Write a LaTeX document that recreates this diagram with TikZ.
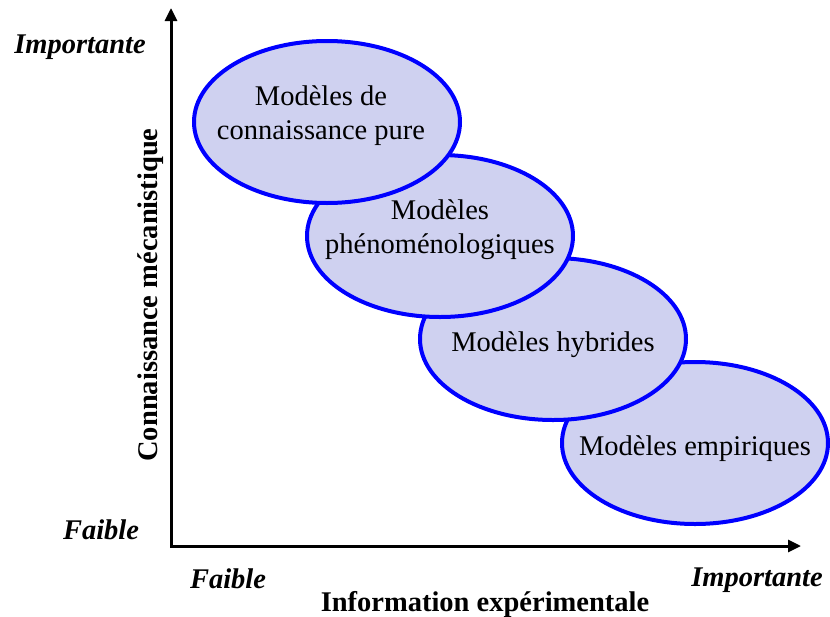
\documentclass[tikz,border=0pt]{standalone}
\usepackage{fontspec}
\setmainfont{Liberation Serif}
\usetikzlibrary{shapes.geometric,arrows.meta}
\definecolor{ellfill}{RGB}{207,209,240}
\definecolor{ellline}{RGB}{0,0,255}
\begin{document}
\begin{tikzpicture}[x=1pt,y=-1pt,
  model/.style={ellipse,draw=ellline,fill=ellfill,line width=4pt,minimum width=266pt,minimum height=162pt,inner sep=0pt},
  modeltext/.style={align=center,inner sep=0pt,font=\fontsize{28.5}{34}\selectfont},
  axlabel/.style={anchor=base,font=\fontsize{28.5}{34}\selectfont\bfseries\itshape,inner sep=0pt},
  axtitle/.style={anchor=base,font=\fontsize{28.5}{34}\selectfont\bfseries,inner sep=0pt},
  axis/.style={line width=3pt,{Triangle[length=13pt,width=12pt]}-{Triangle[length=13pt,width=12pt]}}]
\useasboundingbox (0,0) rectangle (830,616);
% axes
\coordinate (ytip) at (171,8);
\coordinate (O) at (171,546);
\coordinate (xtip) at (801,546);
\draw[axis] (ytip) -- (O) -- (xtip);
% ellipses (drawn bottom to top so upper ones overlap)
\node[model,label={[modeltext,yshift=-6pt]center:Modèles empiriques}] (e4) at (695,443) {};
\node[model,label={[modeltext,yshift=-6pt]center:Modèles hybrides}] (e3) at (553,339) {};
\node[model,label={[modeltext,yshift=6pt]center:Modèles\\phénoménologiques}] (e2) at (440,236) {};
\node[model,label={[modeltext,xshift=-6pt,yshift=6pt]center:Modèles de\\connaissance pure}] (e1) at (327,122) {};
% axis labels
\node[axlabel] (ytop) at (80,53) {Importante};
\node[axlabel] (ybot) at (101,539) {Faible};
\node[axlabel] (xleft) at (228,588) {Faible};
\node[axlabel] (xright) at (757,586) {Importante};
\node[axtitle] (xtitle) at (485,611) {Information expérimentale};
\node[axtitle,rotate=90] (ytitle) at (157,295) {Connaissance mécanistique};
\end{tikzpicture}
\end{document}
